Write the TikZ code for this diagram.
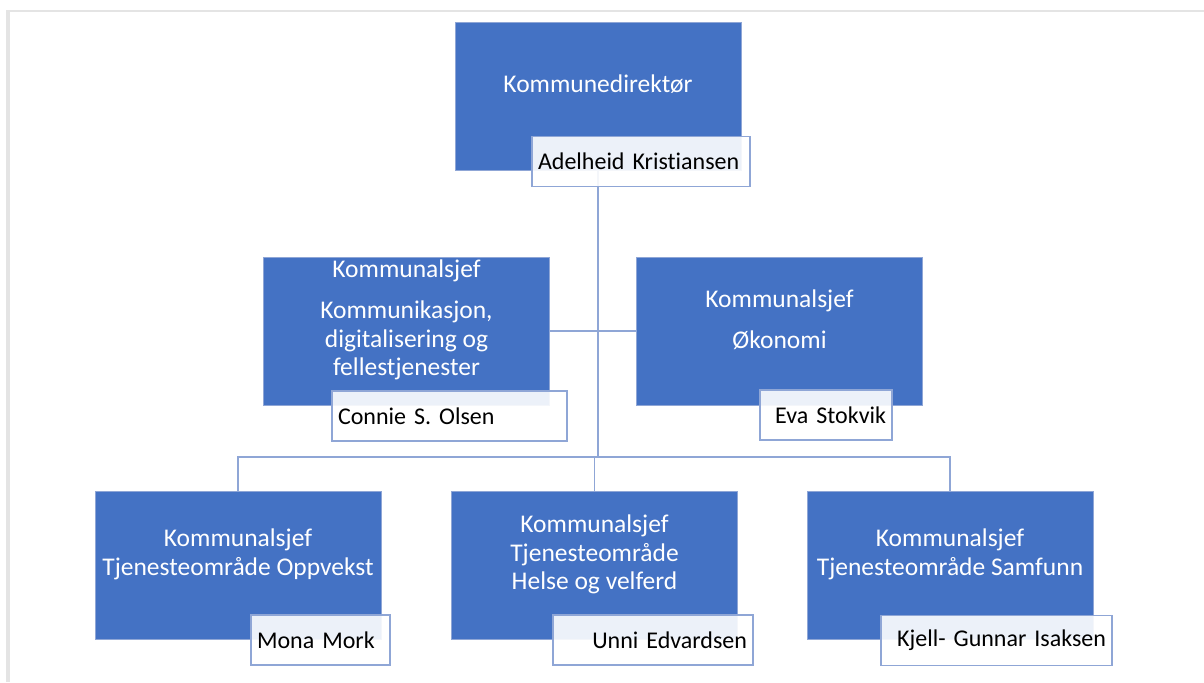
\documentclass[tikz,border=0pt]{standalone}
\usepackage{fontspec}
\setmainfont[Ligatures=NoCommon]{Carlito}
\usetikzlibrary{calc}

\definecolor{orgblue}{RGB}{68,114,196}
\definecolor{orgline}{RGB}{143,166,214}
\definecolor{framegray}{RGB}{228,228,228}

\tikzset{
  unit/.style={fill=orgblue, draw=orgline, line width=0.4pt,
    minimum width=143pt, minimum height=74pt, inner sep=0pt},
  unittext/.style={text=white, align=center, inner sep=0pt,
    font=\fontsize{12.75}{14.25}\selectfont},
  namebox/.style={draw=orgline, line width=0.6pt, fill=white,
    fill opacity=0.9, text opacity=1, minimum height=25pt,
    inner xsep=3pt, inner ysep=0pt, font=\fontsize{12}{14}\selectfont},
  nameleft/.style={namebox, execute at begin node={\noindent}},
  nameright/.style={namebox, execute at begin node={\noindent\hfill}},
  link/.style={draw=orgline, line width=0.6pt}
}

\begin{document}
\begin{tikzpicture}[x=0.5pt,y=-0.5pt]
  \fill[white] (0,0) rectangle (1204,682);
  \useasboundingbox (0,0) rectangle (1204,682);
  \fill[framegray] (6,10) rectangle (10,682);
  \fill[framegray] (6,10) rectangle (1204,12);

  % units
  \node[unit] (dir) at (598,96)    {};
  \node[unit] (kds) at (406.5,331) {};
  \node[unit] (oko) at (779.5,331) {};
  \node[unit] (opp) at (238,565.5) {};
  \node[unit] (hel) at (594.5,565.5) {};
  \node[unit] (sam) at (950,565.5) {};

  \node[unittext] (dir-t) at ([yshift=6pt]dir.center) {Kommunedirektør};
  \node[unittext] (kds-t) at ([yshift=5.5pt]kds.center)
    {Kommunalsjef\\[6.5pt] Kommunikasjon,\\ digitalisering og\\ fellestjenester};
  \node[unittext] (oko-t) at ([yshift=5.5pt]oko.center)
    {Kommunalsjef\\[6pt] Økonomi};
  \node[unittext] (opp-t) at ([yshift=5.5pt]opp.center)
    {Kommunalsjef\\ Tjenesteområde Oppvekst};
  \node[unittext] (hel-t) at ([yshift=5.5pt]hel.center)
    {Kommunalsjef\\ Tjenesteområde\\ Helse og velferd};
  \node[unittext] (sam-t) at ([yshift=5.5pt]sam.center)
    {Kommunalsjef\\ Tjenesteområde Samfunn};

  % lines
  \coordinate (bus) at (598,457);
  \draw[link, line width=1pt] (dir.south) -- (bus);
  \draw[link] (kds.east) -- (oko.west);
  \draw[link] (opp.north) |- (bus) -| (sam.north);
  \draw[link] (hel.north) -- (hel.north |- bus);

  % names
  \node[nameleft, text width=103pt]    (dir-n) at (641,161.5)   {Adelheid Kristiansen};
  \node[nameleft, text width=111.5pt]  (kds-n) at (449.5,416)   {Connie S. Olsen};
  \node[nameright, text width=60pt]    (oko-n) at (826,415)     {Eva Stokvik};
  \node[nameleft, text width=63.5pt]   (opp-n) at (320.5,640)   {Mona Mork};
  \node[nameright, text width=94pt]    (hel-n) at (653,640)     {Unni Edvardsen};
  \node[nameright, text width=109.5pt] (sam-n) at (996.5,640.5) {Kjell- Gunnar Isaksen};
\end{tikzpicture}
\end{document}
